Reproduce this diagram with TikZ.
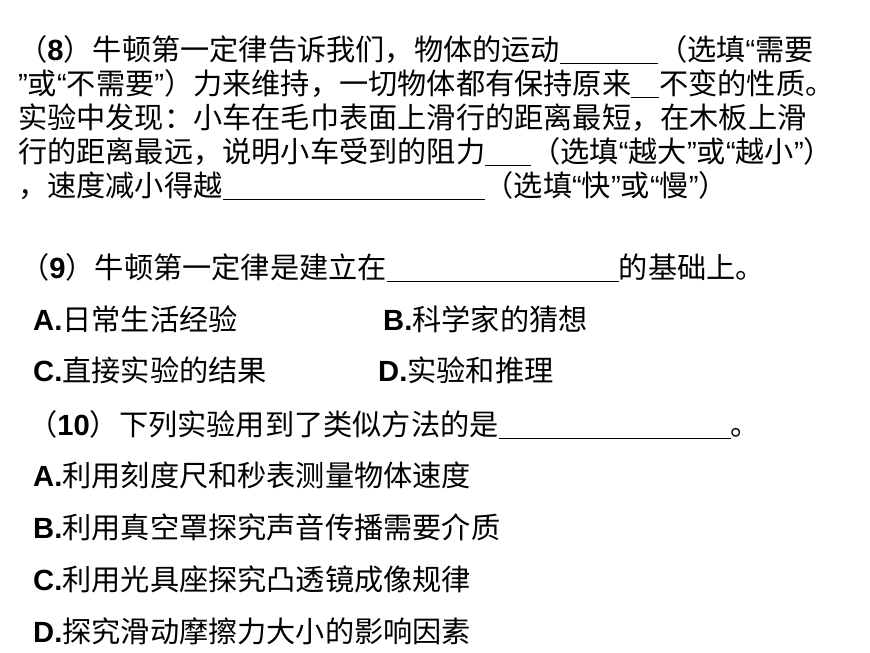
\documentclass[tikz,border=0pt]{standalone}
\usepackage{fontspec}
\setmainfont{Liberation Sans}
\newfontfamily\cjk{Noto Sans CJK SC}
\newcommand\ql{{\normalfont\char"201C}}
\newcommand\qr{{\normalfont\char"201D}}
\newcommand\lt[1]{{\normalfont\bfseries #1}}
\newcommand\blank[1]{\rule[-4pt]{#1pt}{1.3pt}}
\tikzset{line/.style={anchor=base west, inner sep=0pt, font=\cjk\fontsize{29.2}{32}\selectfont}}
\begin{document}
\begin{tikzpicture}[x=1pt,y=-1pt]
        \useasboundingbox (0,0) rectangle (870,653);
        % question 8
        \node[line] (q8a) at (18,60) {（\lt{8}）牛顿第一定律告诉我们，物体的运动\blank{98}（选填\ql 需要};
        \node[line] (q8b) at (18,94) {\qr 或\ql 不需要\qr ）力来维持，一切物体都有保持原来\blank{28}不变的性质。};
        \node[line] (q8c) at (18,128) {实验中发现：小车在毛巾表面上滑行的距离最短，在木板上滑};
        \node[line] (q8d) at (18,162) {行的距离最远，说明小车受到的阻力\blank{46}（选填\ql 越大\qr 或\ql 越小\qr ）};
        \node[line] (q8e) at (18,196) {，速度减小得越\blank{262}（选填\ql 快\qr 或\ql 慢\qr ）};

        % question 9
        \node[line] (q9) at (20,278) {（\lt{9}）牛顿第一定律是建立在\blank{232}的基础上。};
        \node[line] (q9a) at (33,330) {\lt{A.}日常生活经验};
        \node[line] (q9b) at (383,330) {\lt{B.}科学家的猜想};
        \node[line] (q9c) at (33,381) {\lt{C.}直接实验的结果};
        \node[line] (q9d) at (378,381) {\lt{D.}实验和推理};

        % question 10
        \node[line] (q10) at (28,435) {（\lt{10}）下列实验用到了类似方法的是\blank{232}。};
        \node[line] (q10a) at (33,486) {\lt{A.}利用刻度尺和秒表测量物体速度};
        \node[line] (q10b) at (33,538) {\lt{B.}利用真空罩探究声音传播需要介质};
        \node[line] (q10c) at (33,590) {\lt{C.}利用光具座探究凸透镜成像规律};
        \node[line] (q10d) at (33,642) {\lt{D.}探究滑动摩擦力大小的影响因素};
\end{tikzpicture}
\end{document}
